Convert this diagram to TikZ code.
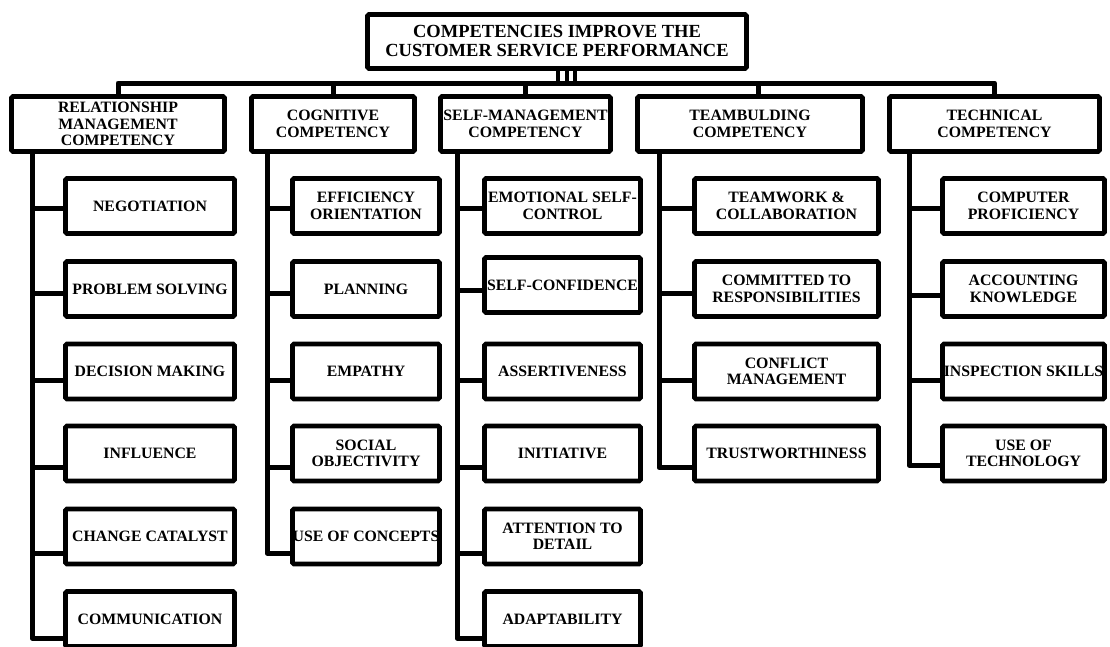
\documentclass[tikz,border=0pt]{standalone}
\usepackage{fontspec}
\setmainfont{Liberation Serif}
\tikzset{
  box/.style={draw,line width=4.8pt,rounded corners=1.5pt,fill=white,inner sep=0pt,
    align=center,font=\bfseries\fontsize{15.8}{16.5}\selectfont},
  link/.style={line width=5pt,line join=round},
}

\begin{document}
\begin{tikzpicture}[x=1pt,y=-1pt]
   \clip (0,0) rectangle (1110,646);
   % top of the tree
   \node[box,minimum width=379pt,minimum height=54pt,font=\bfseries\fontsize{18.5}{19}\selectfont] (top) at (557,41.5)
    {COMPETENCIES IMPROVE THE\\CUSTOMER SERVICE PERFORMANCE};
   \coordinate (bus) at (557,83);
   \foreach \s in {1,10,18}
     \draw[link,line width=4.5pt] ([xshift=\s pt]top.south) -- ++(0,12);
   % the five groups
   \node[box,minimum width=213pt,minimum height=55pt] (rel) at (118,124) {RELATIONSHIP\\MANAGEMENT\\COMPETENCY};
   \node[box,minimum width=163pt,minimum height=55pt] (cog) at (333,124) {COGNITIVE\\COMPETENCY};
   \node[box,minimum width=170pt,minimum height=55pt] (self) at (525.5,124) {SELF-MANAGEMENT\\COMPETENCY};
   \node[box,minimum width=225pt,minimum height=55pt] (team) at (750,124) {TEAMBULDING\\COMPETENCY};
   \node[box,minimum width=210pt,minimum height=55pt] (tech) at (994.5,124) {TECHNICAL\\COMPETENCY};
   \draw[link] (bus) -| (rel.north);
   \draw[link] (bus) -| (cog.north);
   \draw[link] (bus) -| (self.north);
   \draw[link] (bus) -| ([xshift=8pt]team.north);
   \draw[link] (bus) -| (tech.north);
   % relationship management
   \foreach \n/\y/\d/\t in {neg/206/2/NEGOTIATION, prob/289/4/PROBLEM SOLVING, dec/371.5/8.5/DECISION MAKING,
       infl/453.5/14/INFLUENCE, chg/536.5/16.5/CHANGE CATALYST, comm/619/19/COMMUNICATION}{
     \node[box,minimum width=169pt,minimum height=55pt] (\n) at (150,\y) {\t};
     \draw[link] ([xshift=23pt]rel.south west) |- ([yshift=-\d pt]\n.west);
   }
   % cognitive
   \foreach \n/\y/\d/\t in {eff/206/2/{EFFICIENCY\\ORIENTATION}, plan/289/4/PLANNING, emp/371.5/8.5/EMPATHY,
       soc/453.5/14/{SOCIAL\\OBJECTIVITY}, conc/536.5/16.5/USE OF CONCEPTS}{
     \node[box,minimum width=147pt,minimum height=55pt] (\n) at (366,\y) {\t};
     \draw[link] ([xshift=18pt]cog.south west) |- ([yshift=-\d pt]\n.west);
   }
   % self-management
   \foreach \n/\y/\d/\t in {emo/206/2/{EMOTIONAL SELF-\\CONTROL}, conf/285/5/SELF-CONFIDENCE, ass/371.5/8.5/ASSERTIVENESS,
       init/453.5/14/INITIATIVE, att/536.5/16.5/{ATTENTION TO\\DETAIL}, adap/619/19/ADAPTABILITY}{
     \node[box,minimum width=156pt,minimum height=55pt] (\n) at (562.5,\y) {\t};
     \draw[link] ([xshift=19pt]self.south west) |- ([yshift=-\d pt]\n.west);
   }
   % teambuilding
   \foreach \n/\y/\d/\t in {tw/206/2/{TEAMWORK \&\\COLLABORATION}, resp/289/4/{COMMITTED TO\\RESPONSIBILITIES},
       confl/371.5/8.5/{CONFLICT\\MANAGEMENT}, trust/453.5/14/TRUSTWORTHINESS}{
     \node[box,minimum width=184pt,minimum height=55pt] (\n) at (786.5,\y) {\t};
     \draw[link] ([xshift=24pt]team.south west) |- ([yshift=-\d pt]\n.west);
   }
   % technical
   \foreach \n/\y/\d/\t in {comp/206/2/{COMPUTER\\PROFICIENCY}, acc/289/6/{ACCOUNTING\\KNOWLEDGE},
       insp/371.5/8.5/INSPECTION SKILLS, useT/453.5/11.5/{USE OF\\TECHNOLOGY}}{
     \node[box,minimum width=162pt,minimum height=55pt] (\n) at (1023.5,\y) {\t};
     \draw[link] ([xshift=22pt]tech.south west) |- ([yshift=-\d pt]\n.west);
   }
\end{tikzpicture}
\end{document}
